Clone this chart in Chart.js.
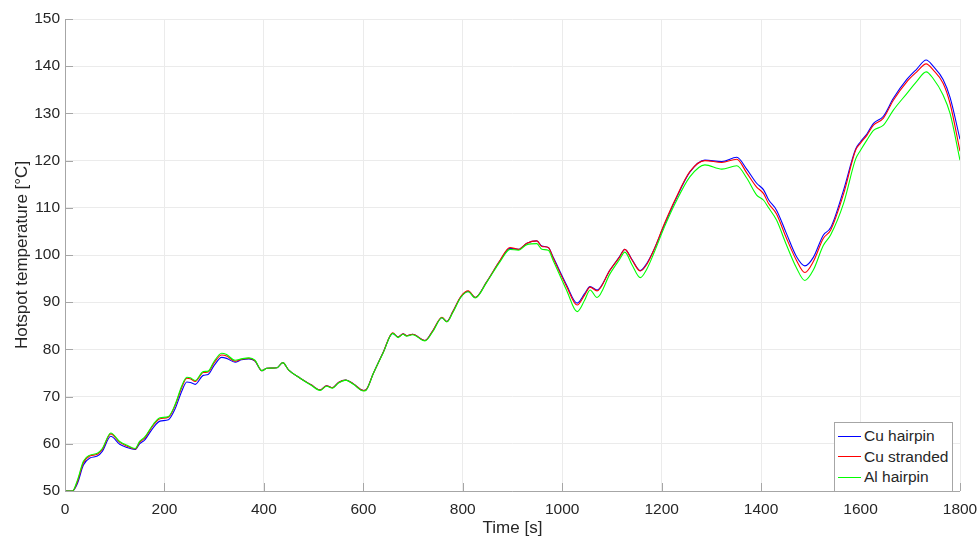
<!DOCTYPE html>
<html lang="en">
<head>
  <meta charset="UTF-8" />
  <title>Hotspot temperature</title>
  <script src="https://cdn.jsdelivr.net/npm/chart.js"></script>
  <style>
    body { margin: 0; background: #fff; font-family: "Liberation Sans", Arial, sans-serif; }
    #wrap { position: relative; width: 978px; height: 539px; }
    #legend { position: absolute; left: 834px; top: 422px; width: 117px; padding: 3px 0 3px 0;
      background: #fff; border: 1px solid #a6a6a6; font-size: 15.5px; color: #262626; }
    #legend div { display: flex; align-items: center; height: 20.5px; }
    #legend span.line { display: inline-block; width: 23px; height: 1px; margin: 0 3px 0 3px; }
  </style>
</head>
<body>
<div id="wrap">
  <canvas id="chart" width="978" height="539"></canvas>
  <div id="legend"></div>
</div>

<script>
// time [s]
const times = [0, 15, 25, 37, 50, 65, 75, 92, 110, 125, 141, 150, 160, 178, 191, 208, 221, 235, 245, 252,
  262, 278, 288, 300, 315, 325, 342, 355, 370, 382, 396, 406, 426, 438, 450, 473, 495, 513, 526, 538,
  550, 565, 580, 600, 605, 620, 640, 659, 670, 680, 687, 699, 724, 740, 758, 768, 780, 796, 811, 825,
  848, 875, 895, 912, 929, 949, 959, 972, 982, 1009, 1030, 1045, 1056, 1070, 1096, 1115, 1126, 1140, 1157, 1170,
  1184, 1205, 1227, 1257, 1287, 1321, 1351, 1371, 1391, 1405, 1415, 1431, 1450, 1471, 1488, 1505, 1525, 1540, 1566, 1590,
  1600, 1613, 1626, 1646, 1666, 1693, 1713, 1732, 1746, 1766, 1780, 1800];

const cuHairpin = [50, 50, 51.6, 55.5, 57, 57.4, 58.4, 61.6, 59.9, 59.2, 58.8, 60, 60.8, 63.5, 64.8, 65.1, 67.3, 71.2, 73.1, 73,
  72.6, 74.5, 74.7, 76.6, 78.3, 78.1, 77.3, 77.8, 78, 77.5, 75.5, 76, 76.1, 77.2, 75.6, 73.9, 72.5, 71.4, 72.3, 71.9,
  73, 73.5, 72.7, 71.3, 71.4, 74.9, 79.4, 83.4, 82.6, 83.3, 82.9, 83.2, 81.9, 84, 86.7, 85.9, 88, 91.1, 92.3, 91,
  94.3, 98.8, 101.4, 101.2, 102.5, 103, 101.9, 101.6, 99.5, 93.6, 89.8, 91.8, 93.3, 92.6, 96.8, 99.6, 101.2, 99.1, 96.7, 98.2,
  101, 106.3, 111.5, 117.6, 120.1, 119.8, 120.7, 118.2, 115.2, 113.8, 111.7, 109.5, 104.8, 99.7, 97.7, 99.5, 104.2, 105.8, 113.8, 122.4,
  124, 125.7, 127.9, 129.4, 133.2, 137.2, 139.4, 141.3, 140, 137.2, 133.4, 124.5];

const cuStranded = [50, 50, 52, 56, 57.4, 57.8, 58.8, 62.1, 60.3, 59.5, 58.9, 60.3, 61.2, 64, 65.3, 65.6, 68, 72, 73.9, 73.8,
  73.2, 75.1, 75.2, 77.2, 78.8, 78.6, 77.5, 77.9, 78.1, 77.6, 75.5, 76, 76.1, 77.2, 75.6, 73.9, 72.5, 71.4, 72.3, 71.9,
  73, 73.5, 72.7, 71.3, 71.4, 74.9, 79.4, 83.5, 82.6, 83.3, 82.9, 83.2, 81.9, 84, 86.8, 85.9, 88, 91.2, 92.4, 91,
  94.3, 98.9, 101.6, 101.2, 102.5, 103, 101.8, 101.6, 99.3, 93.3, 89.4, 91.5, 93.2, 92.4, 96.8, 99.5, 101.2, 99, 96.6, 98,
  101, 106.5, 111.7, 117.7, 120, 119.6, 120.3, 117.4, 114.4, 113, 110.9, 108.7, 103.8, 98.9, 96.3, 98.6, 103.5, 105.3, 113, 122.2,
  123.7, 125.4, 127.5, 129, 132.8, 136.7, 138.8, 140.5, 139.2, 136.4, 132.1, 122];

const alHairpin = [50, 50, 52.3, 56.3, 57.6, 58, 59, 62.3, 60.5, 59.7, 59, 60.5, 61.4, 64.2, 65.5, 65.8, 68.2, 72.3, 74.1, 74,
  73.4, 75.3, 75.4, 77.5, 79.2, 78.9, 77.7, 78, 78.2, 77.7, 75.5, 76, 76.1, 77.2, 75.6, 73.9, 72.4, 71.3, 72.2, 71.8,
  72.9, 73.5, 72.6, 71.2, 71.3, 74.9, 79.3, 83.4, 82.5, 83.2, 82.8, 83.1, 81.8, 83.8, 86.7, 85.8, 87.8, 91, 92.2, 90.9,
  94.2, 98.6, 101.2, 101, 102.2, 102.4, 101.2, 101, 98.8, 92.5, 88, 90.4, 92.6, 91, 96, 99, 100.6, 98, 95.2, 97,
  100.3, 105.8, 110.9, 116.6, 119.1, 118.2, 118.9, 116.3, 112.7, 111.6, 110, 107.4, 102.4, 97.3, 94.6, 96.8, 102, 104.3, 111, 120.3,
  122.2, 124.4, 126.4, 127.5, 130.7, 134.2, 136.8, 138.8, 137.4, 133.9, 130, 120.1];

const seriesNames = ["Cu hairpin", "Cu stranded", "Al hairpin"];
const seriesColors = ["#0000ff", "#ff0000", "#00ff00"];
const seriesValues = [cuHairpin, cuStranded, alHairpin];

const fontFam = "'Liberation Sans', Arial, sans-serif";
const textCol = "#262626";
const axisCol = "#a6a6a6";

// MATLAB-style inward tick marks and the two axis lines
const innerTicks = {
  id: "innerTicks",
  afterDatasetsDraw(chart) {
    const { ctx, chartArea: a, scales: { x, y } } = chart;
    ctx.save();
    ctx.strokeStyle = axisCol;
    ctx.lineWidth = 1;
    ctx.beginPath();
    x.ticks.forEach(t => {
      const px = Math.round(x.getPixelForValue(t.value)) + 0.5;
      ctx.moveTo(px, a.bottom); ctx.lineTo(px, a.bottom - 8);
    });
    y.ticks.forEach(t => {
      const py = Math.round(y.getPixelForValue(t.value)) + 0.5;
      ctx.moveTo(a.left, py); ctx.lineTo(a.left + 8, py);
    });
    ctx.moveTo(a.left + 0.5, a.top); ctx.lineTo(a.left + 0.5, a.bottom + 0.5);
    ctx.lineTo(a.right, a.bottom + 0.5);
    ctx.stroke();
    ctx.restore();
  }
};

const chart = new Chart(document.getElementById("chart"), {
  type: "line",
  data: {
    datasets: seriesNames.map((name, i) => ({
      label: name,
      data: times.map((t, k) => ({ x: t, y: seriesValues[i][k] })),
      borderColor: seriesColors[i],
      borderWidth: 1.1,
      pointRadius: 0,
      fill: false,
      cubicInterpolationMode: "monotone",
      order: 2 - i
    }))
  },
  options: {
    responsive: false,
    animation: false,
    layout: { padding: { top: 19, right: 18, left: 0, bottom: 0 } },
    plugins: { legend: { display: false }, tooltip: { enabled: false } },
    scales: {
      x: {
        type: "linear", min: 0, max: 1800,
        border: { display: false },
        grid: { color: "#ebebeb", drawTicks: false },
        ticks: { stepSize: 200, padding: 9, color: textCol, font: { family: fontFam, size: 15.5 },
          callback: v => String(v) },
        title: { display: true, text: "Time [s]", color: textCol, padding: { top: 0, bottom: 0 },
          font: { family: fontFam, size: 17 } },
        afterFit(s) { s.height = 48; s.paddingRight = 0; s.paddingLeft = 0; }
      },
      y: {
        min: 50, max: 150,
        border: { display: false },
        grid: { color: "#ebebeb", drawTicks: false },
        ticks: { stepSize: 10, padding: 5, color: textCol, font: { family: fontFam, size: 15.5 },
          callback: v => String(v) },
        title: { display: true, text: "Hotspot temperature [°C]", color: textCol, padding: { top: 12, bottom: 0 },
          font: { family: fontFam, size: 17 } },
        afterFit(s) { s.width = 65; }
      }
    }
  },
  plugins: [innerTicks]
});

// legend box inside the plot, bottom right
const legend = document.getElementById("legend");
chart.data.datasets.forEach(ds => {
  const row = document.createElement("div");
  row.innerHTML = '<span class="line" style="background:' + ds.borderColor + '"></span>' + ds.label;
  legend.appendChild(row);
});
</script>
</body>
</html>
